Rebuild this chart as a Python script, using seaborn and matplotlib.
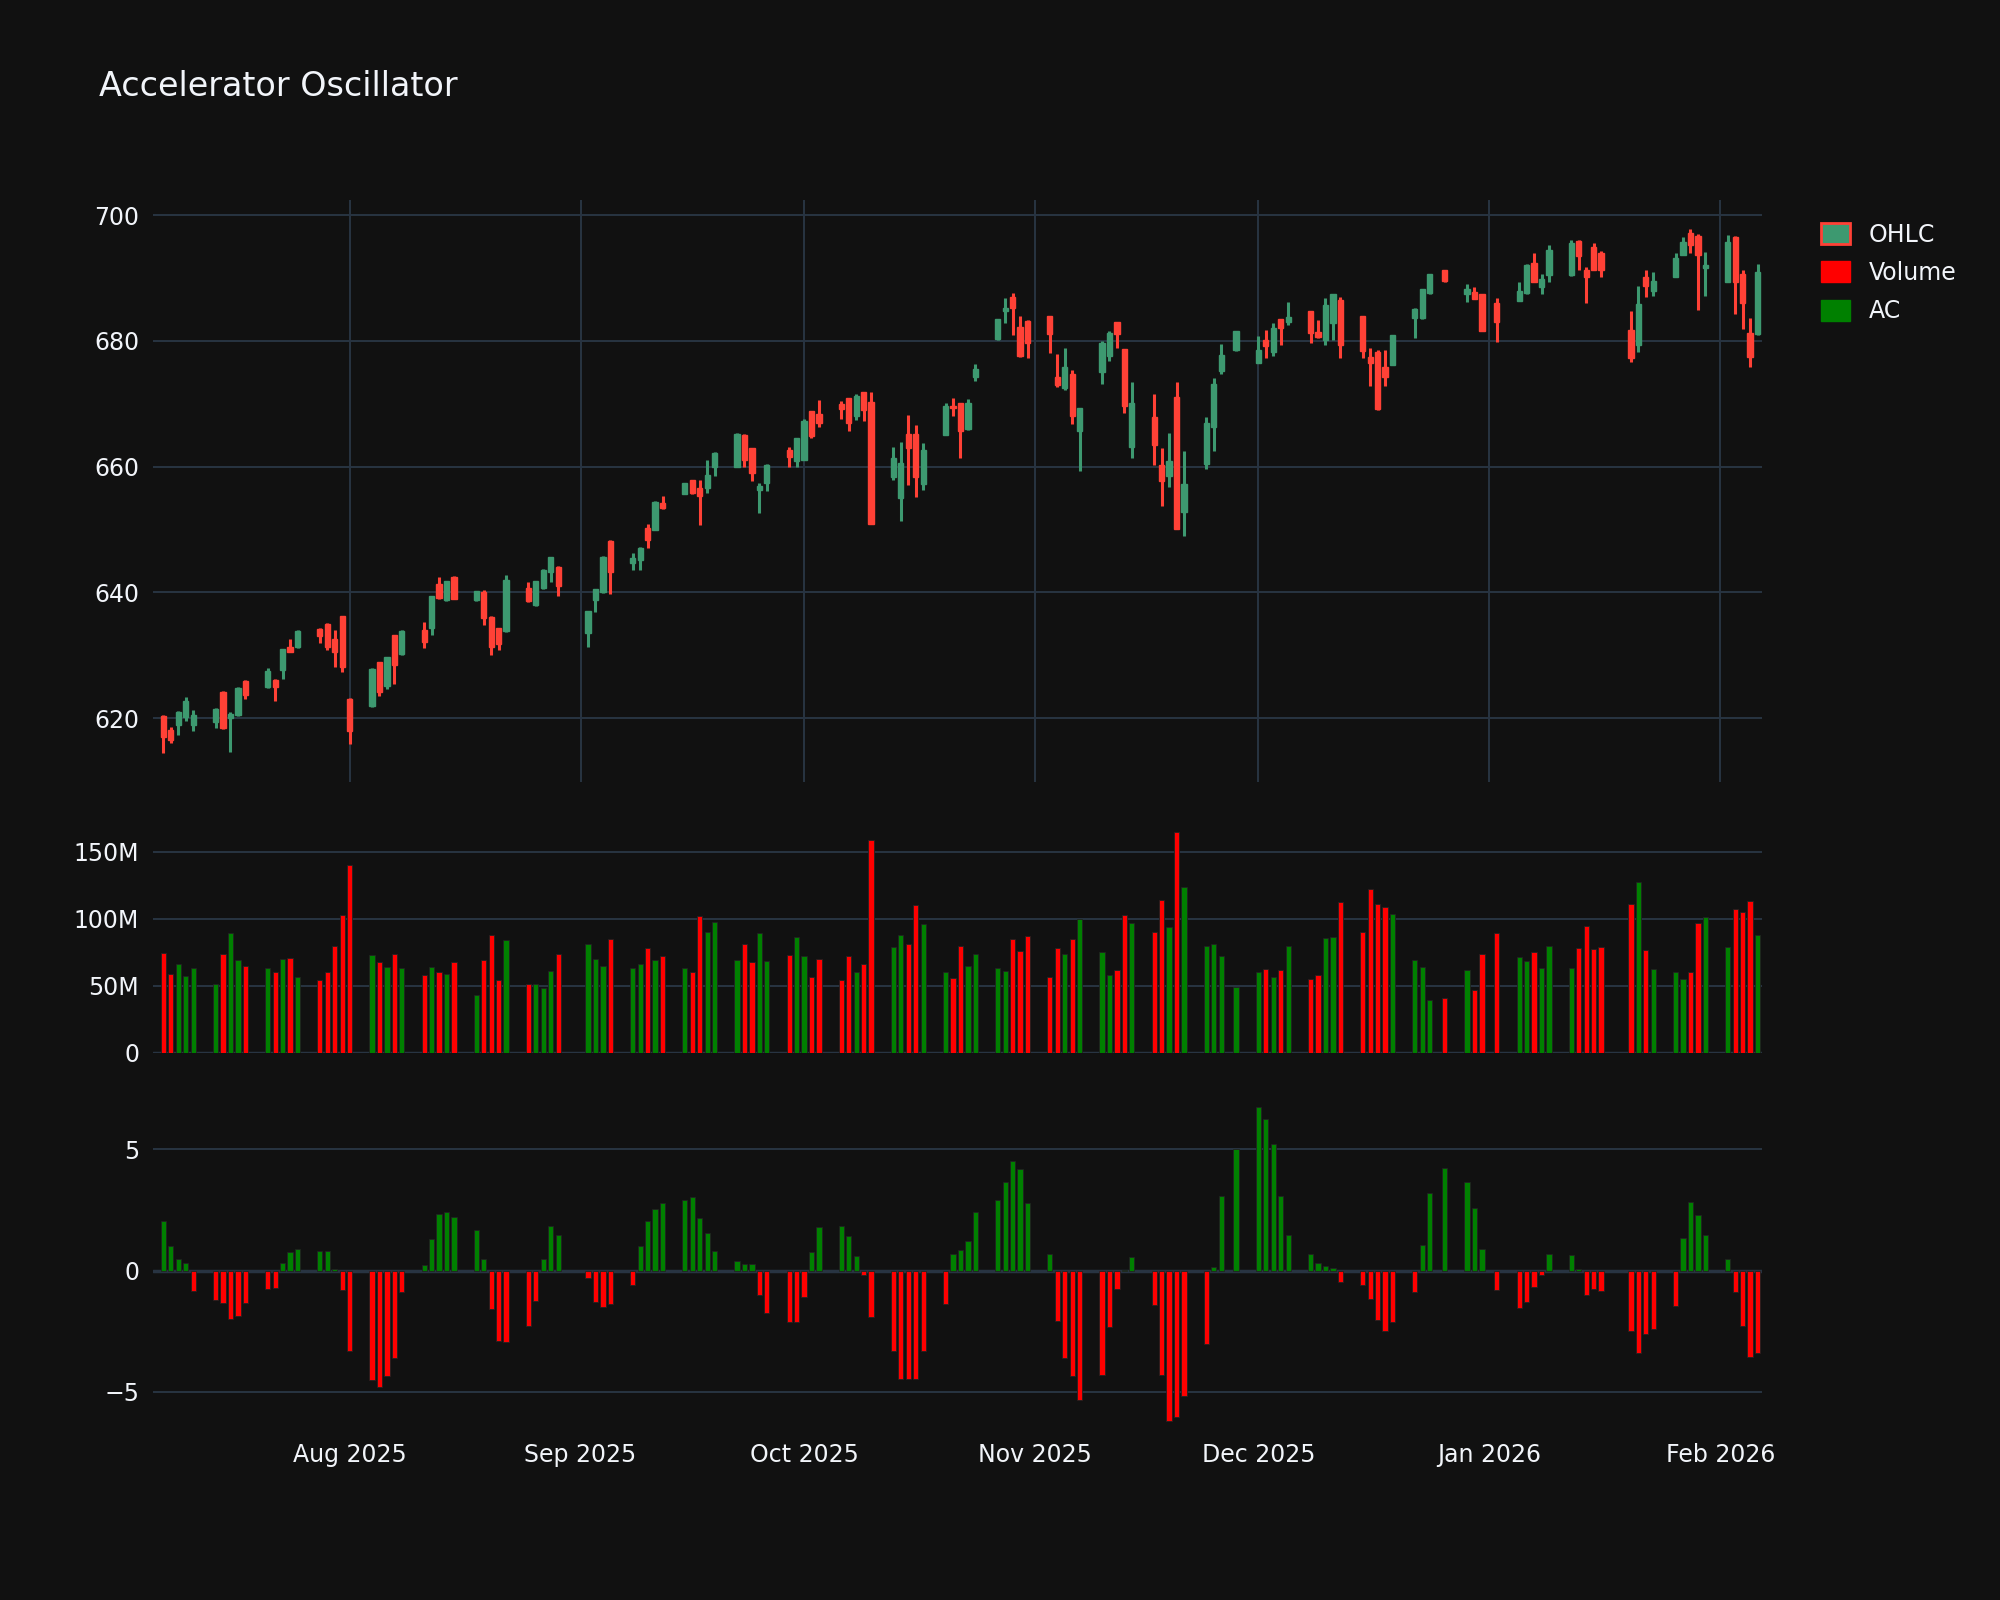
import numpy as np
import pandas as pd
import matplotlib
matplotlib.use("Agg")
import matplotlib.pyplot as plt
import matplotlib.dates as mdates
from matplotlib.patches import Patch
from matplotlib.ticker import FuncFormatter
import seaborn as sns

# ---------------- data ----------------
start_date = "2025-07-07"
end_date = "2026-02-06"
holidays = ["2025-09-01", "2025-11-27", "2025-12-25", "2026-01-01", "2026-01-19"]

open_ = [620.3,618.2,619.0,620.2,619.0, 619.4,624.2,620.0,620.5,626.0, 625.0,626.1,627.7,631.4,631.3,
         634.2,635.0,632.6,636.2,623.1, 621.9,628.9,625.2,633.2,630.2, 634.1,634.4,641.3,638.8,642.5,
         638.8,640.0,636.1,634.3,633.8, 640.7,638.0,640.7,643.2,644.1, 633.6,638.8,640.0,648.2,
         644.7,645.1,650.2,650.0,654.3, 655.7,657.9,656.6,656.6,660.0, 660.0,665.1,662.9,656.3,657.4,
         662.7,660.9,661.0,668.8,668.3, 669.9,670.9,668.0,671.8,670.3, 658.4,655.0,665.2,665.2,657.3,
         665.1,669.7,670.2,666.0,674.2, 680.3,684.7,686.9,682.2,683.2, 683.9,674.3,672.5,674.8,665.7,
         675.0,677.6,683.0,678.7,663.1, 667.9,660.3,658.5,671.1,652.8, 660.5,666.3,675.2,678.5,
         676.5,680.1,678.2,683.4,683.0, 684.7,681.4,680.2,682.9,686.5, 683.9,677.5,678.2,675.9,676.2,
         683.6,683.6,687.6,691.2, 687.4,687.8,687.5,686.0, 686.3,687.6,692.4,688.5,690.4,
         690.4,695.9,691.3,694.9,694.0, 681.8,679.4,690.2,687.9, 690.2,693.7,697.2,696.7,691.6,
         689.4,696.5,690.7,681.3,681.1]
high = [620.5,618.6,621.2,623.3,621.3, 621.6,624.3,621.0,625.0,626.1, 628.0,626.2,631.0,632.6,634.0,
        634.4,635.1,634.1,636.3,623.2, 628.0,629.0,629.8,633.3,634.0, 635.3,639.4,642.5,641.8,642.6,
        640.3,640.4,636.2,634.4,642.8, 641.6,641.9,643.8,645.7,644.2, 637.0,640.6,645.8,648.4,
        646.2,647.2,650.9,654.5,655.4, 657.4,657.9,657.9,661.1,662.4, 665.3,665.2,663.0,657.4,660.4,
        663.2,664.6,667.6,668.9,670.6, 670.5,670.9,671.5,671.8,671.8, 663.1,663.9,668.2,666.6,663.7,
        670.2,670.9,670.2,670.7,676.3, 683.5,686.8,687.6,683.9,683.3, 683.9,677.9,678.8,675.4,669.3,
        680.0,681.5,683.0,678.7,673.5, 671.6,663.0,665.3,673.5,662.5, 667.9,674.1,679.5,681.6,
        680.8,681.7,682.8,683.5,686.2, 684.8,683.3,686.8,687.5,686.9, 684.0,678.9,678.5,678.6,681.0,
        685.3,688.3,690.7,691.3, 689.1,688.5,687.5,686.8, 689.4,692.2,693.9,690.7,695.3,
        696.1,696.1,691.7,695.5,694.3, 684.7,688.8,691.2,691.0, 694.0,696.5,697.8,697.0,694.1,
        696.8,696.6,691.3,683.6,692.2]
low = [614.4,616.0,617.4,619.5,618.0, 618.4,618.3,614.6,620.3,623.0, 624.8,622.7,626.2,630.5,631.2,
       631.9,630.8,628.1,627.3,615.9, 621.8,623.6,624.7,625.5,630.0, 631.1,633.3,639.0,638.7,638.9,
       638.7,634.9,630.0,630.9,633.7, 638.5,637.9,640.6,641.7,639.5, 631.4,636.9,639.9,639.7,
       643.6,643.6,647.0,649.9,653.3, 655.6,655.7,650.7,655.8,658.5, 659.9,660.0,657.8,652.6,656.1,
       660.0,659.9,661.0,664.5,666.3, 667.6,665.7,667.5,667.3,650.9, 657.9,651.3,657.1,655.2,656.3,
       665.0,668.1,661.3,665.9,673.7, 680.2,682.8,681.0,677.5,677.2, 678.0,672.6,672.2,666.8,659.3,
       673.1,676.8,678.9,668.6,661.3, 660.2,653.8,656.8,650.1,648.9, 659.7,662.5,674.7,678.4,
       676.5,677.3,677.6,679.3,682.6, 679.6,680.5,679.3,680.2,677.2, 677.2,672.9,669.0,672.9,676.1,
       680.5,683.5,687.5,689.3, 686.2,686.6,681.5,679.9, 686.3,687.5,689.3,687.5,689.3,
       690.3,691.3,686.0,691.2,690.1, 676.6,678.2,686.9,687.2, 690.1,693.6,693.9,684.9,687.2,
       689.3,684.2,681.9,675.8,681.0]
close = [617.0,616.6,621.0,622.7,620.5, 621.5,618.4,620.6,624.8,623.7, 627.5,625.0,631.0,630.6,633.9,
         633.1,631.4,630.6,628.2,618.0, 627.9,624.1,629.7,628.5,633.9, 632.1,639.4,639.1,641.8,639.0,
         640.3,635.9,631.4,631.8,642.0, 638.6,641.9,643.6,645.6,641.1, 637.0,640.5,645.7,643.3,
         645.5,647.1,648.4,654.4,653.4, 657.4,655.8,655.3,658.7,662.2, 665.2,661.0,659.0,656.9,660.3,
         661.5,664.6,667.3,664.9,666.9, 669.1,666.9,671.3,669.0,650.9, 661.3,660.6,662.9,658.4,662.7,
         669.7,669.3,665.6,670.1,675.5, 683.4,685.2,685.2,677.6,679.7, 681.1,673.0,675.8,668.1,669.3,
         679.7,681.3,681.1,669.7,670.2, 663.4,657.8,660.9,650.1,657.3, 667.0,673.2,677.8,681.5,
         678.5,679.2,682.0,682.1,683.8, 681.3,680.6,685.7,687.4,679.4, 678.4,676.5,669.1,674.2,680.9,
         685.1,688.2,690.6,689.6, 688.2,686.7,681.6,683.0, 688.0,692.1,689.4,689.9,694.4,
         695.5,693.5,690.1,691.3,691.3, 677.3,685.8,688.7,689.5, 693.1,695.8,695.3,693.7,692.1,
         695.7,689.4,686.0,677.4,690.9]
volume_m = [74.5,59,66,57,63, 51.5,74,89,69,65, 63,60,70,71,56.5, 54.5,60,80,103,140,
            73,68,64,74,63.5, 58,64,60,59,68, 43,69,88,54.5,84, 51,51,48,61,74, 81,70,65,85,
            63,66,78,69,72, 63.5,60.6,101.7,90,97.7, 69,81,67.6,89.5,68.8, 73,86,72,56.5,70,
            54,72,60,66,159, 79,88,81,110,96, 60,56,80,65,74, 63,61,85,76,87,
            56.5,78,74,84.5,100, 75,58,62,103,96.5, 90,114,94,165,124, 80,81,72,48.7,
            60.6,62.7,56.6,61.5,79.3, 54.8,58,85.4,86,112.8, 90.4,121.9,110.8,108.5,103.2,
            69,64,39,41, 62,46.6,74,89, 71.7,68.8,75.2,63.6,79.6, 63.6,77.8,94.5,77.6,79,
            111,127.7,76.7,62.7, 60,55,60.6,97,101.5, 79,107.6,105,113.4,88]
ac = [2.05,1.03,0.5,0.3,-0.85, -1.2,-1.35,-1.98,-1.87,-1.33, -0.75,-0.73,0.33,0.77,0.88,
      0.8,0.82,0.05,-0.8,-3.3, -4.5,-4.8,-4.35,-3.6,-0.9, 0.25,1.32,2.35,2.4,2.2,
      1.67,0.5,-1.57,-2.9,-2.95, -2.27,-1.25,0.48,1.84,1.47, -0.32,-1.28,-1.5,-1.36,
      -0.6,1.0,2.03,2.55,2.77, 2.93,3.04,2.16,1.57,0.8, 0.4,0.29,0.29,-1.0,-1.76,
      -2.13,-2.1,-1.07,0.75,1.78, 1.86,1.41,0.61,-0.16,-1.9, -3.3,-4.45,-4.45,-4.45,-3.3,
      -1.38,0.67,0.83,1.23,2.4, 2.93,3.64,4.52,4.17,2.77, 0.69,-2.08,-3.6,-4.33,-5.34,
      -4.3,-2.32,-0.75,0.03,0.58, -1.4,-4.3,-6.2,-6.04,-5.18, -3.04,0.16,3.08,5.0,
      6.73,6.27,5.24,3.09,1.47, 0.7,0.3,0.21,0.1,-0.45, -0.6,-1.15,-2.02,-2.48,-2.12,
      -0.88,1.04,3.19,4.23, 3.67,2.6,0.88,-0.8, -1.55,-1.28,-0.66,-0.16,0.67,
      0.64,0.08,-1.0,-0.77,-0.85, -2.5,-3.41,-2.6,-2.4, -1.44,1.33,2.82,2.28,1.47,
      0.46,-0.87,-2.3,-3.56,-3.4]
price_ticks = [620, 640, 660, 680, 700]
volume_ticks_m = [0, 50, 100, 150]
ac_ticks = [-5, 0, 5]

# ---------------- styling ----------------
BG = "#111111"
GRID = "#283442"
TXT = "#f2f5fa"
INC = "#3D9970"
DEC = "#FF4136"

sns.set_theme(style="dark", rc={"axes.facecolor": BG, "figure.facecolor": BG,
                                "axes.edgecolor": BG, "text.color": TXT,
                                "xtick.color": TXT, "ytick.color": TXT})
plt.rcParams["font.family"] = ["DejaVu Sans"]

dates = pd.bdate_range(start_date, end_date)
dates = dates[~dates.isin(pd.to_datetime(holidays))]
x = mdates.date2num(dates.to_pydatetime())
o, h, l, c = map(np.array, (open_, high, low, close))
up = c >= o
df = pd.DataFrame({"x": x, "vol": volume_m, "ac": ac,
                   "vdir": np.where(up, "up", "down"),
                   "adir": np.where(np.array(ac) >= 0, "up", "down")})

fig = plt.figure(figsize=(20, 16), dpi=100)
L, R = 0.0765, 0.881
ax1 = fig.add_axes([L, 0.511, R - L, 0.875 - 0.511])
ax2 = fig.add_axes([L, 0.342, R - L, 0.487 - 0.342], sharex=ax1)
ax3 = fig.add_axes([L, 0.1085, R - L, 0.312 - 0.1085], sharex=ax1)

# candles
cols = np.where(up, INC, DEC)
ax1.vlines(x, l, h, colors=cols, linewidth=2.2, zorder=3)
body = np.where(np.abs(c - o) < 0.15, 0.15, c - o)
ax1.bar(x, body, bottom=o, width=0.7, color=cols, edgecolor=cols, linewidth=1, zorder=4)

pal = {"up": "green", "down": "red"}
for ax, col, hue in ((ax2, "vol", "vdir"), (ax3, "ac", "adir")):
    sns.barplot(data=df, x="x", y=col, hue=hue, palette=pal, native_scale=True,
                dodge=False, width=0.7, errorbar=None, legend=False, orient="x",
                saturation=1, ax=ax, zorder=3, linewidth=0.6, edgecolor="#222222")

x0 = mdates.date2num(pd.Timestamp(start_date)) - 1.4
x1 = mdates.date2num(pd.Timestamp(end_date)) + 0.6
for ax in (ax1, ax2, ax3):
    ax.set_facecolor(BG)
    ax.set_xlim(x0, x1)
    ax.set_xlabel("")
    ax.set_ylabel("")
    for s in ax.spines.values():
        s.set_visible(False)
    ax.tick_params(axis="both", length=0, labelsize=17, colors=TXT, pad=10)
    ax.grid(axis="y", color=GRID, linewidth=1.4, zorder=0)
    ax.set_axisbelow(True)

ax1.set_ylim(609.8, 702.4)
ax1.set_yticks(price_ticks)
ax1.grid(axis="x", color=GRID, linewidth=1.4, zorder=0)
ax2.set_ylim(0, 173)
ax2.set_yticks(volume_ticks_m)
ax2.yaxis.set_major_formatter(FuncFormatter(lambda v, p: "0" if v == 0 else f"{int(v)}M"))
ax2.axhline(0, color=GRID, linewidth=2.5, zorder=1)
ax3.set_ylim(-6.42, 7.0)
ax3.set_yticks(ac_ticks)
ax3.yaxis.set_major_formatter(FuncFormatter(lambda v, p: f"{int(v)}".replace("-", "\u2212")))
ax3.axhline(0, color=GRID, linewidth=2.5, zorder=1)

for ax in (ax1, ax2, ax3):
    ax.xaxis.set_major_locator(mdates.MonthLocator())
    ax.xaxis.set_major_formatter(mdates.DateFormatter("%b %Y"))
ax2.grid(axis="x", visible=False)
ax3.grid(axis="x", visible=False)
ax1.tick_params(axis="x", labelbottom=False)
ax2.tick_params(axis="x", labelbottom=False)
ax3.tick_params(axis="x", pad=12)

fig.text(0.0497, 0.946, "Accelerator Oscillator", fontsize=24, color=TXT, va="center", ha="left")

handles = [Patch(facecolor=INC, edgecolor=DEC, linewidth=2),
           Patch(facecolor="red", edgecolor="red"),
           Patch(facecolor="green", edgecolor="green")]
leg = fig.legend(handles, ["OHLC", "Volume", "AC"], loc="upper left",
                 bbox_to_anchor=(0.9, 0.874), frameon=False, fontsize=17,
                 labelcolor=TXT, handlelength=1.2, handleheight=1.0, labelspacing=0.6)

fig.savefig("out.png", dpi=100, facecolor=BG)
